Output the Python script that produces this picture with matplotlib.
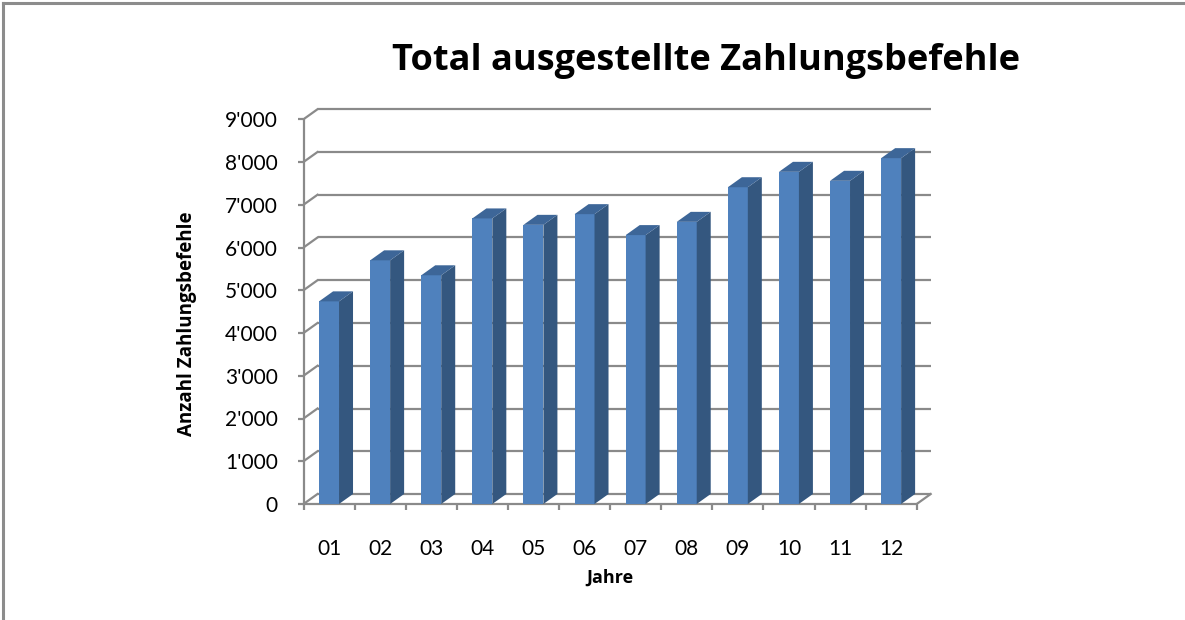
import matplotlib.pyplot as plt
from matplotlib.patches import Polygon
from matplotlib.lines import Line2D

# Data
years = ['01', '02', '03', '04', '05', '06', '07', '08', '09', '10', '11', '12']
counts = [4740, 5700, 5350, 6680, 6530, 6780, 6290, 6600, 7410, 7770, 7560, 8090]
y_ticks = [0, 1000, 2000, 3000, 4000, 5000, 6000, 7000, 8000, 9000]
y_tick_labels = ["0", "1'000", "2'000", "3'000", "4'000", "5'000",
                 "6'000", "7'000", "8'000", "9'000"]

plt.rcParams['font.family'] = ['Lato', 'DejaVu Sans']
bold_font = ['Open Sans', 'DejaVu Sans']

W, H = 1185, 620
fig = plt.figure(figsize=(W / 100, H / 100), dpi=100)

# plot area in pixels
px_cat = 51.1          # pixels per category
px_val = 42.75 / 1000  # pixels per unit value
x0_px, y0_px = 303.5, 504
xlim = (-0.5, 11.85)
ylim = (0, 9300)
ax = fig.add_axes([x0_px / W, (H - y0_px) / H,
                   (xlim[1] - xlim[0]) * px_cat / W,
                   (ylim[1] - ylim[0]) * px_val / H])
ax.set_xlim(*xlim)
ax.set_ylim(*ylim)

# depth offset of the 3D look (in data units)
dx = 14 / px_cat
dy = 10 / px_val

grid_col = '#8a8a8a'
n = len(years)

# back wall gridlines and left wall diagonals
for v in y_ticks:
    ax.plot([-0.5 + dx, n - 0.5 + dx], [v + dy, v + dy], color=grid_col, lw=1.6,
            zorder=1, solid_capstyle='butt')
    ax.plot([-0.5, -0.5 + dx], [v, v + dy], color=grid_col, lw=1.6, zorder=1)
# floor right edge
ax.plot([n - 0.5, n - 0.5 + dx], [0, dy], color=grid_col, lw=1.6, zorder=1)

# bars
front_col = '#4f81bd'
side_col = '#34577f'
top_col = '#3d6698'
bw = 0.39
xs = list(range(n))
ax.bar(xs, counts, width=bw, color=front_col, zorder=3, linewidth=0)
for x, v in zip(xs, counts):
    r = x + bw / 2
    l = x - bw / 2
    ax.add_patch(Polygon([(r, 0), (r + dx, dy), (r + dx, v + dy), (r, v)],
                         closed=True, facecolor=side_col, edgecolor='none', zorder=3))
    ax.add_patch(Polygon([(l, v), (l + dx, v + dy), (r + dx, v + dy), (r, v)],
                         closed=True, facecolor=top_col, edgecolor='none', zorder=3))

# axes styling
for s in ['top', 'right']:
    ax.spines[s].set_visible(False)
ax.spines['left'].set_bounds(0, 9000)
ax.spines['bottom'].set_bounds(-0.5, n - 0.5)
for s in ['left', 'bottom']:
    ax.spines[s].set_color(grid_col)
    ax.spines[s].set_linewidth(1.6)
    ax.spines[s].set_zorder(2)

ax.set_yticks(y_ticks)
ax.set_yticklabels(y_tick_labels)
ax.tick_params(axis='y', direction='out', length=4.5, width=1.6, color=grid_col,
               labelsize=15, pad=14)
ax.set_xticks([i - 0.5 for i in range(n + 1)])
ax.set_xticklabels([])
ax.set_xticks(xs, minor=True)
ax.set_xticklabels(years, minor=True)
ax.tick_params(axis='x', which='major', direction='out', length=4.5, width=1.6,
               color=grid_col)
ax.tick_params(axis='x', which='minor', length=0, labelsize=15, pad=25)
ax.patch.set_visible(False)

# texts
fig.text(706 / W, 1 - 61 / H, 'Total ausgestellte Zahlungsbefehle', ha='center',
         va='center', fontsize=26, fontweight='bold', family=bold_font)
fig.text(187 / W, 1 - 324 / H, 'Anzahl Zahlungsbefehle', ha='center', va='center',
         rotation=90, fontsize=13.5, fontweight='bold', family=bold_font)
fig.text(610 / W, 1 - 578 / H, 'Jahre', ha='center', va='center',
         fontsize=13, fontweight='bold', family=bold_font)

# chart border (left and top visible)
fig.add_artist(Line2D([2.5 / W, 2.5 / W], [0, 1 - 3 / H], color='#8c8c8c', lw=2.2))
fig.add_artist(Line2D([2.5 / W, 1], [1 - 3 / H, 1 - 3 / H], color='#8c8c8c', lw=2.2))

fig.savefig('out.png', dpi=100)
